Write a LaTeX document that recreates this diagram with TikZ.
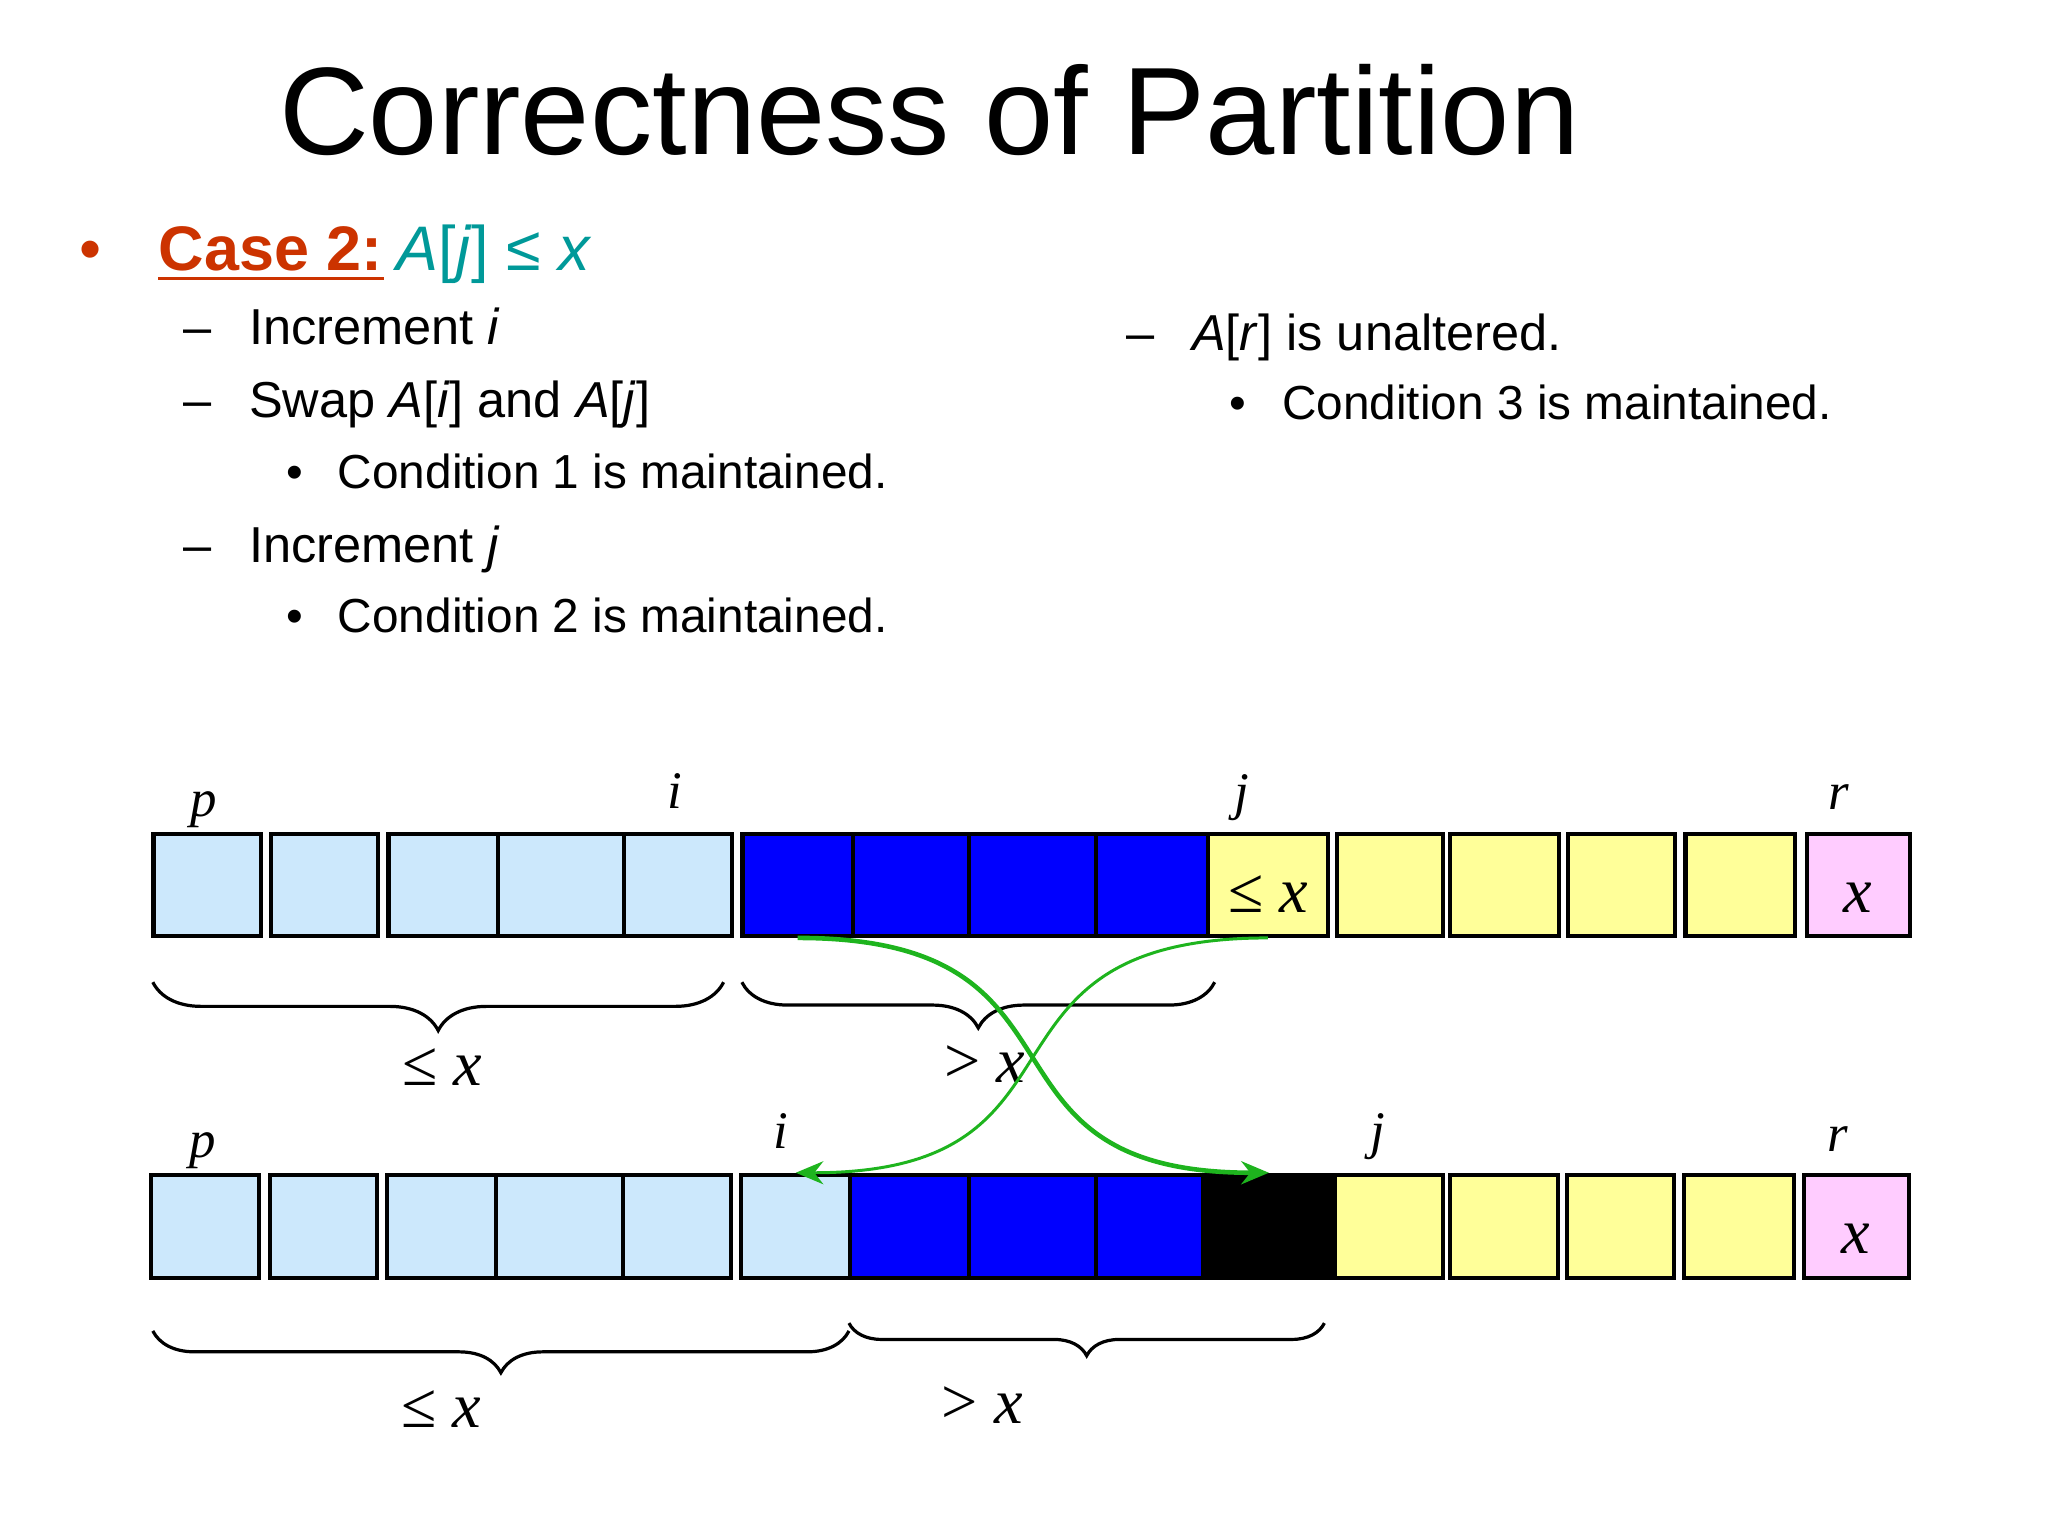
\documentclass[tikz,border=0pt]{standalone}
\usepackage{fontspec}
\setmainfont{Liberation Sans}
\newfontfamily\timesfont{Liberation Serif}
\usetikzlibrary{arrows.meta, decorations.pathreplacing}

\definecolor{lowblue}{RGB}{204,232,252}
\definecolor{highblue}{RGB}{0,0,255}
\definecolor{yellowcell}{RGB}{255,255,153}
\definecolor{pinkcell}{RGB}{255,204,255}
\definecolor{caseorange}{RGB}{204,51,0}
\definecolor{caseteal}{RGB}{0,153,153}
\definecolor{swapgreen}{RGB}{30,180,30}

\begin{document}
\begin{tikzpicture}[
        x=0.01cm, y=-0.01cm,
        txt/.style={inner sep=0pt, anchor=base west},
        headline/.style={inner sep=0pt, anchor=base, font=\fontsize{27.1}{32}\selectfont},
        lvlone/.style={txt, font=\fontsize{13.7}{16}\selectfont},
        lvltwo/.style={txt, font=\fontsize{11}{13}\selectfont},
        lvlthree/.style={txt, font=\fontsize{10.4}{12}\selectfont},
        idx/.style={inner sep=0pt, anchor=base, font=\fontsize{11.5}{13}\selectfont\timesfont\itshape},
        val/.style={inner sep=0pt, anchor=base, font=\fontsize{14}{17}\selectfont\timesfont},
        cell/.style={rectangle, draw=black, line width=0.9pt, inner sep=0pt},
        topcell/.style={cell, minimum height=0.78cm},
        botcell/.style={cell, minimum height=0.79cm},
        curly/.style={decorate, decoration={brace, mirror, amplitude=#1}, line width=0.7pt},
        swaparrow/.style={draw=swapgreen, line width=#1, -{Stealth[length=6pt, width=5pt]}}
    ]
    \useasboundingbox (0,0) rectangle (1568,1176);

    % heading and bullet text
    \node (head) [headline] at (711.5,118) {Correctness of Partition};
    \node (bul0) [lvlone, text=caseorange] at (60,207) {•};
    \node (case) [lvlone, text=caseorange] at (121,207) {\textbf{Case 2:}};
    \draw [caseorange, line width=0.7pt] ([yshift=-1.7pt]case.base west) -- ([yshift=-1.7pt]case.base east);
    \node (cond) [lvlone, text=caseteal] at (303,207) {\textit{A}[\textit{j}] ≤ \textit{x}};

    \node (dash1) [lvltwo] at (140,264) {–};
    \node (inci) [lvltwo] at (190,264) {Increment \textit{i}};
    \node (dash2) [lvltwo] at (140,320) {–};
    \node (swp) [lvltwo] at (190,320) {Swap \textit{A}[\textit{i}] and \textit{A}[\textit{j}]};
    \node (bul1) [lvlthree] at (219,374) {•};
    \node (cond1) [lvlthree] at (258,374) {Condition 1 is maintained.};
    \node (dash3) [lvltwo] at (140,431) {–};
    \node (incj) [lvltwo] at (190,431) {Increment \textit{j}};
    \node (bul2) [lvlthree] at (219,484) {•};
    \node (cond2) [lvlthree] at (258,484) {Condition 2 is maintained.};

    \node (dash4) [lvltwo] at (862,268) {–};
    \node (unalt) [lvltwo] at (912,268) {\textit{A}[\textit{r}] is unaltered.};
    \node (bul3) [lvlthree] at (941,321) {•};
    \node (cond3) [lvlthree] at (981,321) {Condition 3 is maintained.};

    % array before the swap
    \node (top1) [topcell, fill=lowblue, minimum width=0.82cm] at (158.5,677.5) {};
    \node (top2) [topcell, fill=lowblue, minimum width=0.82cm] at (248.5,677.5) {};
    \node (top3) [topcell, fill=lowblue, minimum width=0.835cm] at (339.25,677.5) {};
    \node (top4) [topcell, fill=lowblue, minimum width=0.97cm] at (429.5,677.5) {};
    \node (top5) [topcell, fill=lowblue, minimum width=0.825cm] at (519.25,677.5) {};
    \node (top6) [topcell, fill=highblue, minimum width=0.845cm] at (610.75,677.5) {};
    \node (top7) [topcell, fill=highblue, minimum width=0.89cm] at (697.5,677.5) {};
    \node (top8) [topcell, fill=highblue, minimum width=0.97cm] at (790.5,677.5) {};
    \node (top9) [topcell, fill=highblue, minimum width=0.86cm] at (882,677.5) {};
    \node (top10) [topcell, fill=yellowcell, minimum width=0.915cm] at (970.75,677.5) {};
    \node (top11) [topcell, fill=yellowcell, minimum width=0.81cm] at (1064,677.5) {};
    \node (top12) [topcell, fill=yellowcell, minimum width=0.83cm] at (1152,677.5) {};
    \node (top13) [topcell, fill=yellowcell, minimum width=0.82cm] at (1241.5,677.5) {};
    \node (top14) [topcell, fill=yellowcell, minimum width=0.84cm] at (1332.5,677.5) {};
    \node (top15) [topcell, fill=pinkcell, minimum width=0.79cm] at (1423,677.5) {};
    \node (topv) [val] at (971,699) {≤ \textit{x}};
    \node (topx) [val] at (1422,699) {\textit{x}};

    \node (topp) [idx] at (156,625) {p};
    \node (topi) [idx] at (517,619) {i};
    \node (topj) [idx] at (951,620) {j};
    \node (topr) [idx] at (1408,620) {r};

    \draw [curly=0.37cm] (117,752) -- (554,752);
    \draw [curly=0.35cm] (568,752) -- (930,752);
    \node (topleq) [val] at (338.5,831) {≤ \textit{x}};
    \node (topgt) [val] at (754,829) {> \textit{x}};

    % array after the swap
    \node (bot1) [botcell, fill=lowblue, minimum width=0.83cm] at (157,939) {};
    \node (bot2) [botcell, fill=lowblue, minimum width=0.82cm] at (247.5,939) {};
    \node (bot3) [botcell, fill=lowblue, minimum width=0.835cm] at (338.25,939) {};
    \node (bot4) [botcell, fill=lowblue, minimum width=0.97cm] at (428.5,939) {};
    \node (bot5) [botcell, fill=lowblue, minimum width=0.825cm] at (518.25,939) {};
    \node (bot6) [botcell, fill=lowblue, minimum width=0.835cm] at (609.25,939) {};
    \node (bot7) [botcell, fill=highblue, minimum width=0.91cm] at (696.5,939) {};
    \node (bot8) [botcell, fill=highblue, minimum width=0.97cm] at (790.5,939) {};
    \node (bot9) [botcell, fill=highblue, minimum width=0.82cm] at (880,939) {};
    \node (bot10) [botcell, fill=black, minimum width=1.01cm] at (971.5,939) {};
    \node (bot11) [botcell, fill=yellowcell, minimum width=0.825cm] at (1063.25,939) {};
    \node (bot12) [botcell, fill=yellowcell, minimum width=0.82cm] at (1151.5,939) {};
    \node (bot13) [botcell, fill=yellowcell, minimum width=0.82cm] at (1240.5,939) {};
    \node (bot14) [botcell, fill=yellowcell, minimum width=0.84cm] at (1331.5,939) {};
    \node (bot15) [botcell, fill=pinkcell, minimum width=0.80cm] at (1421.5,939) {};
    \node (botx) [val] at (1421,959.5) {\textit{x}};

    \node (botp) [idx] at (155,886) {p};
    \node (boti) [idx] at (598,879) {i};
    \node (botj) [idx] at (1055,879) {j};
    \node (botr) [idx] at (1407,882) {r};

    \draw [curly=0.32cm] (117,1019) -- (650,1019);
    \draw [curly=0.25cm] (650,1013) -- (1014,1013);
    \node (botleq) [val] at (338,1093) {≤ \textit{x}};
    \node (botgt) [val] at (752,1090) {> \textit{x}};

    % the swap
    \draw [swaparrow=1pt] (top6.south) .. controls +(240,0) and +(-240,0) .. (bot10.north);
    \draw [swaparrow=0.65pt] (top10.south) .. controls +(-240,0) and +(240,0) .. (bot6.north);
\end{tikzpicture}
\end{document}
